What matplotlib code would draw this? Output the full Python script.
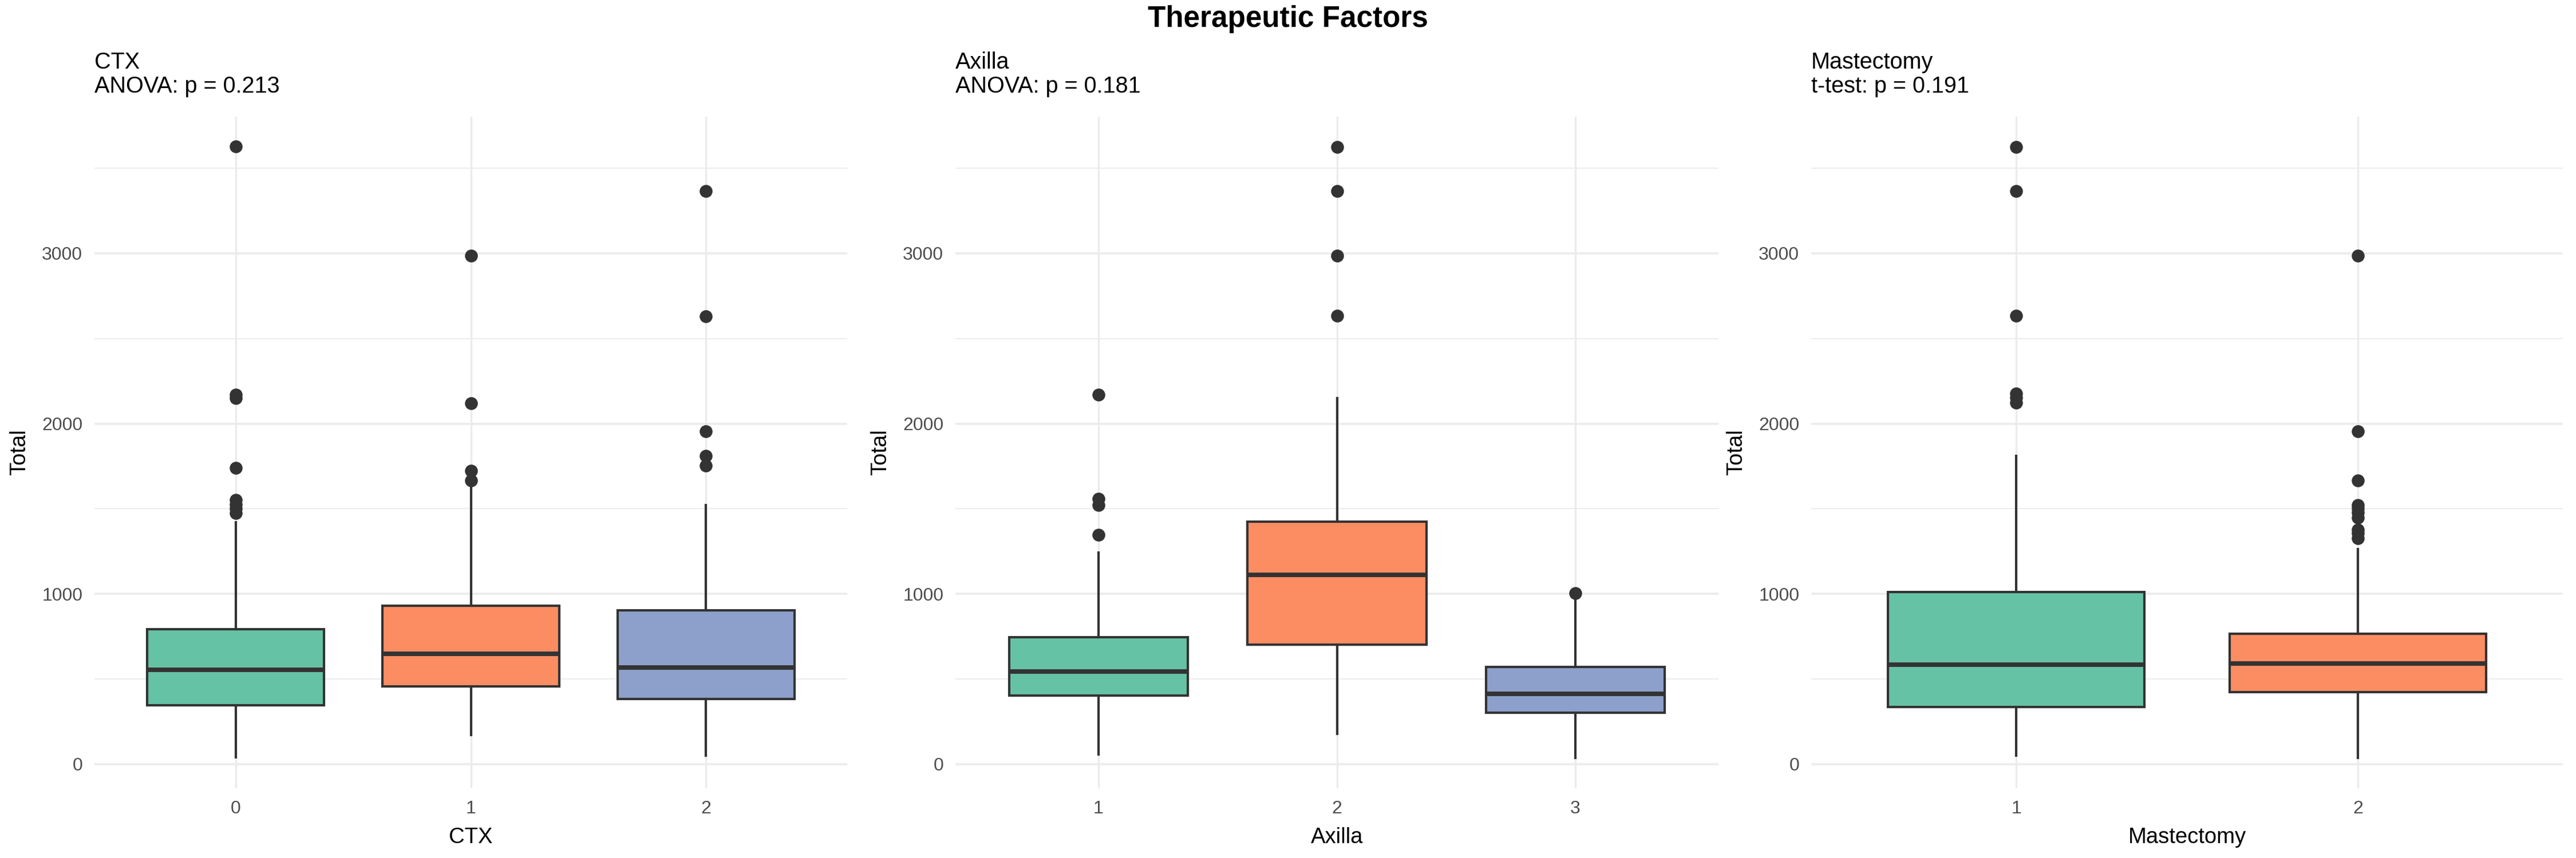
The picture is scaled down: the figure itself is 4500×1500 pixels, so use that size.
import matplotlib
matplotlib.use("Agg")
import matplotlib.pyplot as plt
from matplotlib.ticker import MultipleLocator

plt.rcParams['font.family'] = ['Liberation Sans', 'DejaVu Sans']

# ── Data ──────────────────────────────────────────────────────────────────────
ctx_levels   = ['0', '1', '2']
ctx_whislo   = [39, 170, 51]
ctx_q1       = [344, 457, 383]
ctx_med      = [552, 646, 567]
ctx_q3       = [792, 930, 903]
ctx_whishi   = [1422, 1635, 1520]
ctx_fliers   = [[1475, 1500, 1525, 1550, 1739, 2150, 2170, 3627],
                [1666, 1724, 2118, 2987],
                [1753, 1809, 1955, 2629, 3365]]

ax_levels    = ['1', '2', '3']
ax_whislo    = [55, 178, 37]
ax_q1        = [402, 701, 302]
ax_med       = [543, 1112, 414]
ax_q3        = [744, 1425, 569]
ax_whishi    = [1241, 2149, 963]
ax_fliers    = [[1348, 1520, 1557, 2170],
                [2632, 2986, 3365, 3624],
                [1003]]

mas_levels   = ['1', '2']
mas_whislo   = [49, 37]
mas_q1       = [336, 422]
mas_med      = [583, 592]
mas_q3       = [1011, 764]
mas_whishi   = [1810, 1261]
mas_fliers   = [[2124, 2152, 2175, 2632, 3365, 3624],
                [1328, 1356, 1376, 1448, 1477, 1500, 1523, 1667, 1954, 2986]]

panel_names  = ['CTX', 'Axilla', 'Mastectomy']
panel_tests  = ['ANOVA: p = 0.213', 'ANOVA: p = 0.181', 't-test: p = 0.191']
set2         = ['#66C2A5', '#FC8D62', '#8DA0CB']

panels = [
    (ctx_levels, ctx_whislo, ctx_q1, ctx_med, ctx_q3, ctx_whishi, ctx_fliers),
    (ax_levels,  ax_whislo,  ax_q1,  ax_med,  ax_q3,  ax_whishi,  ax_fliers),
    (mas_levels, mas_whislo, mas_q1, mas_med, mas_q3, mas_whishi, mas_fliers),
]

# ── Layout ────────────────────────────────────────────────────────────────────
W, H = 4500, 1500
fig = plt.figure(figsize=(15, 5), dpi=300)
lefts  = [165, 1669, 3164]
widths = [1315, 1333, 1313]
top, bottom = 204, 1378

edge = '#333333'
grid = '#EBEBEB'

for i, (levels, lo, q1, med, q3, hi, fl) in enumerate(panels):
    ax = fig.add_axes([lefts[i] / W, (H - bottom) / H, widths[i] / W, (bottom - top) / H])
    stats = [dict(whislo=lo[k], q1=q1[k], med=med[k], q3=q3[k], whishi=hi[k], fliers=fl[k])
             for k in range(len(levels))]
    pos = list(range(1, len(levels) + 1))
    bp = ax.bxp(stats, positions=pos, widths=0.75, patch_artist=True, showcaps=False,
                boxprops=dict(edgecolor=edge, linewidth=1.0),
                whiskerprops=dict(color=edge, linewidth=1.0),
                medianprops=dict(color=edge, linewidth=1.9, solid_capstyle='butt'),
                flierprops=dict(marker='o', markerfacecolor=edge, markeredgecolor=edge,
                                markersize=4.4, linestyle='none'),
                zorder=3)
    for patch, c in zip(bp['boxes'], set2):
        patch.set_facecolor(c)

    ax.set_xlim(0.4, len(levels) + 0.6)
    ax.set_ylim(-142, 3803)
    ax.set_xticks(pos)
    ax.set_xticklabels(levels)
    ax.yaxis.set_major_locator(MultipleLocator(1000))
    ax.yaxis.set_minor_locator(MultipleLocator(500))
    ax.grid(True, which='major', axis='y', color=grid, linewidth=0.85, zorder=0)
    ax.grid(True, which='minor', axis='y', color=grid, linewidth=0.45, zorder=0)
    ax.grid(True, which='major', axis='x', color=grid, linewidth=0.8, zorder=0)
    ax.set_axisbelow(True)
    for s in ax.spines.values():
        s.set_visible(False)
    ax.tick_params(which='both', length=0, labelsize=7.7, labelcolor='#4D4D4D', pad=5)
    ax.set_xlabel(panel_names[i], fontsize=9.2, labelpad=4)
    ax.set_ylabel('Total', fontsize=9.2, labelpad=5)
    ax.set_title(panel_names[i] + '\n' + panel_tests[i], loc='left', fontsize=9.5,
                 pad=10, linespacing=1.15)

fig.suptitle('Therapeutic Factors', x=0.5, y=1 - 33 / H, va='center',
             fontsize=12.3, fontweight='bold')

fig.savefig('out.png', dpi=300, facecolor='white')
